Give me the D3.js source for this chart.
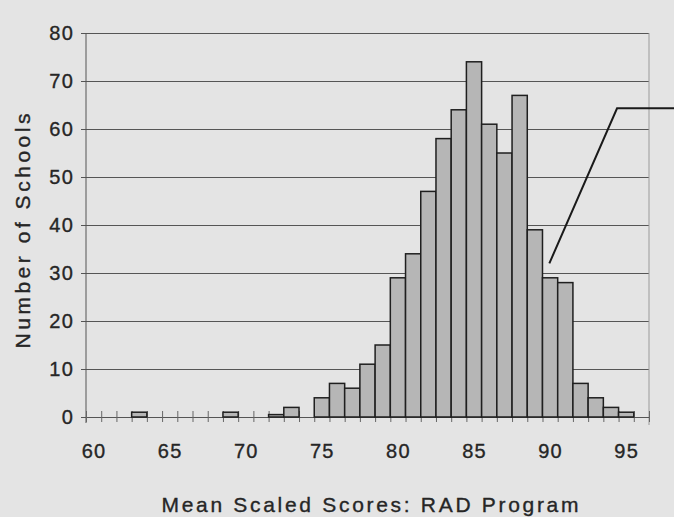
<!DOCTYPE html>
<html>
<head>
<meta charset="utf-8">
<script src="https://cdn.jsdelivr.net/npm/d3@7"></script>
<style>
  html, body { margin: 0; padding: 0; background: #e4e4e4; }
  svg { display: block; }
  text { font-family: "Liberation Sans", Arial, sans-serif; fill: #262626; stroke: #262626; stroke-width: 0.35; }
</style>
</head>
<body>
<svg id="chart" width="674" height="517"></svg>
<script>
// ---- data ----
const scores = [60,61,62,63,64,65,66,67,68,69,70,71,72,73,74,75,76,77,78,79,80,81,82,83,84,85,86,87,88,89,90,91,92,93,94,95,96];
const counts = [0,0,0,1,0,0,0,0,0,1,0,0,0.5,2,0,4,7,6,11,15,29,34,47,58,64,74,61,55,67,39,29,28,7,4,2,1,0];
const xTickLabels = [60,65,70,75,80,85,90,95];
const yTickLabels = [0,10,20,30,40,50,60,70,80];
const xTitle = "Mean Scaled Scores:  RAD Program";
const yTitle = "Number of Schools";
// annotation leader line, in data units (score, count)
const leaderPts = [[89.95, 32], [94.4, 64.3], [98.2, 64.3]];

// ---- layout ----
const svg = d3.select("#chart");
const pLeft = 86, pRight = 649, pTop = 33, pBottom = 417;

const x = d3.scaleLinear().domain([59.5, 96.5]).range([pLeft, pRight]);
const y = d3.scaleLinear().domain([0, 80]).range([pBottom, pTop]);

// background
svg.append("rect").attr("width", 674).attr("height", 517).attr("fill", "#e4e4e4");

// gridlines
const grid = svg.append("g").attr("transform", `translate(${pLeft},0)`)
  .call(d3.axisLeft(y).tickValues(yTickLabels).tickSize(-(pRight - pLeft)).tickFormat(""));
grid.select(".domain").remove();
grid.selectAll("line").attr("stroke", "#555").attr("stroke-width", 1);

// right border of plot
svg.append("line").attr("x1", pRight).attr("x2", pRight).attr("y1", pTop).attr("y2", pBottom + 8)
  .attr("stroke", "#9a9a9a").attr("stroke-width", 1);

// y axis with labels
const ya = svg.append("g").attr("transform", `translate(${pLeft},0)`)
  .call(d3.axisLeft(y).tickValues(yTickLabels).tickSize(5).tickPadding(7).tickSizeOuter(0));
ya.select(".domain").attr("stroke", "#555").attr("d", `M0,${pTop}V${pBottom + 6}`);
ya.selectAll("line").attr("stroke", "#555");
ya.selectAll("text").attr("font-size", 20).attr("letter-spacing", 1.2).attr("fill", "#262626");

// x axis boundary ticks (cross style)
const bounds = scores.concat([97]).map(s => s - 0.5);
const xb = svg.append("g").attr("transform", `translate(0,${pBottom})`)
  .call(d3.axisBottom(x).tickValues(bounds).tickSize(5).tickFormat("").tickSizeOuter(0));
xb.select(".domain").attr("stroke", "#555");
xb.selectAll("line").attr("stroke", "#666").attr("y1", -6).attr("y2", 5);

// bars
svg.append("g").selectAll("rect")
  .data(scores.map((s, i) => ({ s, c: counts[i] })).filter(d => d.c > 0))
  .join("rect")
  .attr("x", d => x(d.s - 0.5))
  .attr("width", d => x(d.s + 0.5) - x(d.s - 0.5))
  .attr("y", d => y(d.c))
  .attr("height", d => y(0) - y(d.c))
  .attr("fill", "#b6b6b6")
  .attr("stroke", "#1f1f1f")
  .attr("stroke-width", 1.5);

// x tick labels
const xl = svg.append("g").attr("transform", `translate(0,${pBottom})`)
  .call(d3.axisBottom(x).tickValues(xTickLabels).tickSize(0).tickPadding(27));
xl.select(".domain").remove();
xl.selectAll("text").attr("font-size", 20).attr("letter-spacing", 1.2).attr("fill", "#262626");

// axis titles
svg.append("text").attr("x", 370).attr("y", 512).attr("text-anchor", "middle")
  .attr("font-size", 21).attr("textLength", 417).attr("lengthAdjust", "spacing").text(xTitle);
svg.append("text").attr("transform", "translate(30,231) rotate(-90)").attr("text-anchor", "middle")
  .attr("font-size", 21).attr("textLength", 235).attr("lengthAdjust", "spacing").text(yTitle);

// leader line
svg.append("path")
  .attr("d", d3.line().x(d => x(d[0])).y(d => y(d[1]))(leaderPts))
  .attr("fill", "none").attr("stroke", "#1a1a1a").attr("stroke-width", 2);
</script>
</body>
</html>
